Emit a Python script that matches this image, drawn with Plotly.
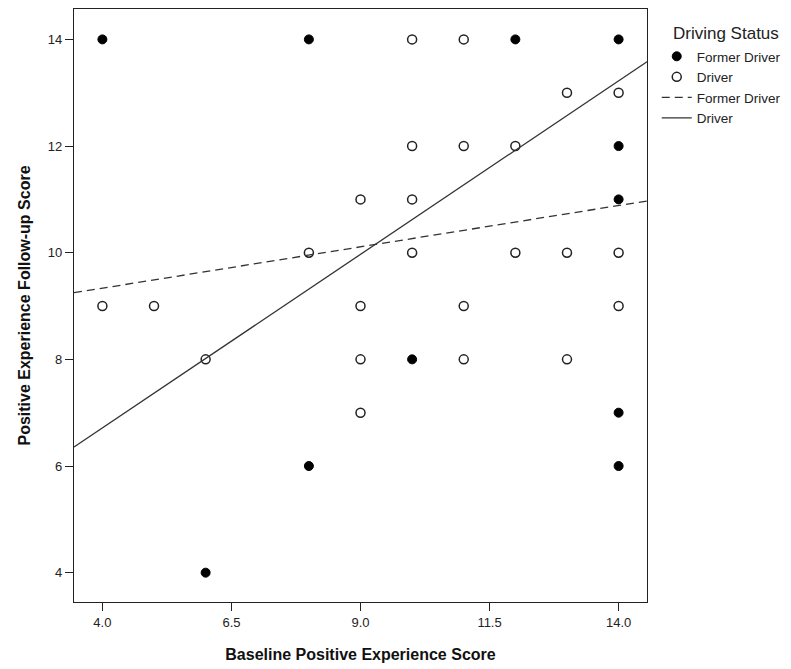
import plotly.graph_objects as go
import numpy as np

# Former Driver (filled circles)
former_x = [4, 8, 12, 14, 14, 14, 10, 14, 14, 8, 6]
former_y = [14, 14, 14, 14, 12, 11, 8, 7, 6, 6, 4]

# Driver (open circles)
driver_x = [10, 11, 13, 14, 10, 11, 12, 9, 10, 8, 10, 12, 13, 14, 4, 5, 9, 11, 14, 6, 9, 11, 13, 9]
driver_y = [14, 14, 13, 13, 12, 12, 12, 11, 11, 10, 10, 10, 10, 10, 9, 9, 9, 9, 9, 8, 8, 8, 8, 7]

# Fit lines (intercept, slope)
former_fit = [8.715, 0.155]
driver_fit = [4.11, 0.651]

x_range = [3.45, 14.55]
y_range = [3.45, 14.57]
x_ticks = [4.0, 6.5, 9.0, 11.5, 14.0]
y_ticks = [4, 6, 8, 10, 12, 14]

FONT = "Liberation Sans, Arial, sans-serif"

fx = np.array(x_range)
fig = go.Figure()
fig.add_trace(go.Scatter(x=former_x, y=former_y, mode="markers", name="Former Driver",
                         marker=dict(symbol="circle", size=9, color="black",
                                     line=dict(color="black", width=1))))
fig.add_trace(go.Scatter(x=driver_x, y=driver_y, mode="markers", name="Driver",
                         marker=dict(symbol="circle-open", size=9, color="#222",
                                     line=dict(color="#222", width=1.5))))
fig.add_trace(go.Scatter(x=fx, y=former_fit[0] + former_fit[1] * fx, mode="lines",
                         name="Former Driver",
                         line=dict(color="#333", width=1.3, dash="8px,5px")))
fig.add_trace(go.Scatter(x=fx, y=driver_fit[0] + driver_fit[1] * fx, mode="lines",
                         name="Driver", line=dict(color="#333", width=1.3)))

fig.add_annotation(text="Driving Status", xref="paper", yref="paper",
                   x=1.042, y=0.9595, xanchor="left", yanchor="middle", showarrow=False,
                   font=dict(size=17, family=FONT, color="#222"))

fig.update_layout(
    width=791, height=669,
    margin=dict(l=66, r=152, t=1, b=75),
    plot_bgcolor="white", paper_bgcolor="white",
    font=dict(family=FONT, size=13, color="#222"),
    showlegend=True,
    legend=dict(x=1.017, y=0.946, xanchor="left", yanchor="top",
                font=dict(size=13.5, family=FONT, color="#222"),
                tracegroupgap=0, itemwidth=30, bgcolor="rgba(0,0,0,0)"),
    xaxis=dict(range=x_range, tickvals=x_ticks, ticktext=[f"{v:.1f}" for v in x_ticks],
               showgrid=False, zeroline=False, showline=True, linecolor="#222", linewidth=1.3,
               mirror=True, ticks="outside", ticklen=8, tickwidth=1.3, tickcolor="#222",
               tickfont=dict(size=13, family=FONT, color="#222"),
               title=dict(text="<b>Baseline Positive Experience Score</b>",
                          font=dict(size=16, family=FONT, color="#111"), standoff=20)),
    yaxis=dict(range=y_range, tickvals=y_ticks,
               showgrid=False, zeroline=False, showline=True, linecolor="#222", linewidth=1.3,
               mirror=True, ticks="outside", ticklen=8, tickwidth=1.3, tickcolor="#222",
               tickfont=dict(size=13, family=FONT, color="#222"),
               title=dict(text="<b>Positive Experience Follow-up Score</b>",
                          font=dict(size=16, family=FONT, color="#111"), standoff=13)),
)

fig.write_html("out.html")
